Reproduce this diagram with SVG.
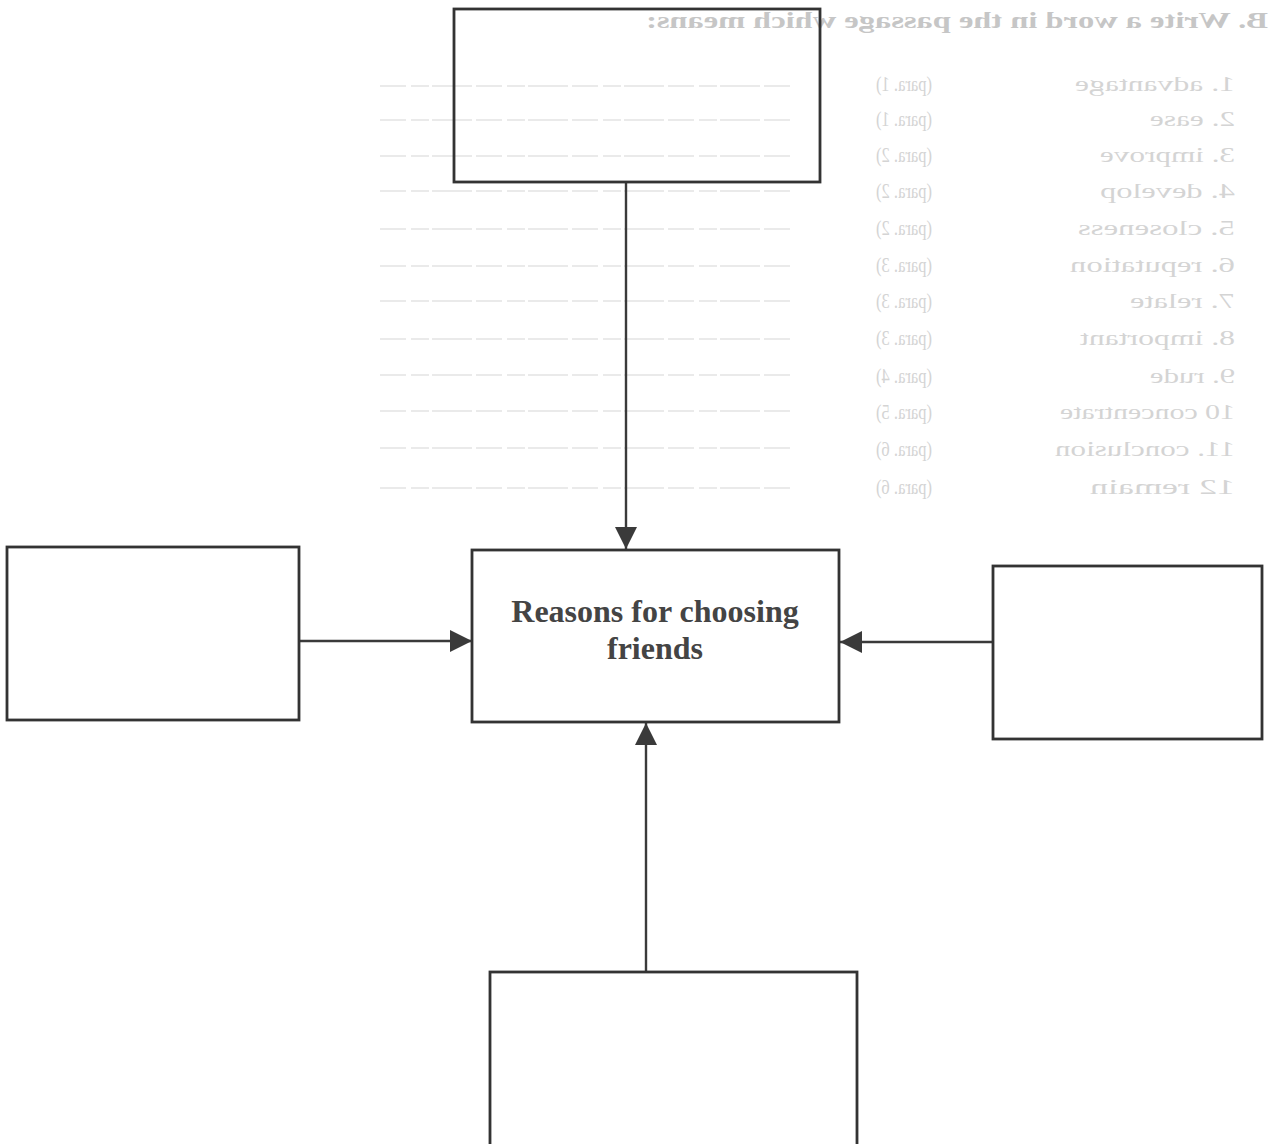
<svg xmlns="http://www.w3.org/2000/svg" width="1272" height="1144" viewBox="0 0 1272 1144">
  <style>
    .box { fill: none; stroke: #333333; stroke-width: 2.8; }
    .conn { stroke: #3a3a3a; stroke-width: 2.4; fill: none; }
    .title { font-family: "Liberation Serif", "Times New Roman", serif; font-weight: bold; font-size: 32px; fill: #444444; text-anchor: middle; }
    .ghost { font-family: "Liberation Serif", "Times New Roman", serif; font-size: 22px; fill: #d4d4d4; }
    .ghosthead { font-family: "Liberation Serif", "Times New Roman", serif; font-size: 23px; font-weight: bold; fill: #c6c6c6; }
    .gline { stroke: #e4e4e4; stroke-width: 1.6; stroke-dasharray: 26 4 40 3 18 5; }
  </style>
  <defs>
    <marker id="arrow" markerUnits="userSpaceOnUse" markerWidth="24" markerHeight="24" viewBox="0 0 24 24" refX="23" refY="12" orient="auto">
      <path d="M1,1 L23,12 L1,23 z" fill="#3a3a3a"/>
    </marker>
  </defs>
  <rect width="1272" height="1144" fill="#ffffff"/>

  <!-- show-through from the reverse side of the page (mirrored) -->
  <g id="ghost" transform="translate(1272,0) scale(-1,1)">
    <text class="ghosthead" x="4" y="28" textLength="622" lengthAdjust="spacingAndGlyphs">B. Write a word in the passage which means:</text>
    <g class="ghost">
      <text x="37" y="91" textLength="160" lengthAdjust="spacingAndGlyphs">1. advantage</text>
      <text x="37" y="126" textLength="85" lengthAdjust="spacingAndGlyphs">2. ease</text>
      <text x="37" y="162" textLength="135" lengthAdjust="spacingAndGlyphs">3. improve</text>
      <text x="37" y="198" textLength="135" lengthAdjust="spacingAndGlyphs">4. develop</text>
      <text x="37" y="235" textLength="157" lengthAdjust="spacingAndGlyphs">5. closeness</text>
      <text x="37" y="272" textLength="165" lengthAdjust="spacingAndGlyphs">6. reputation</text>
      <text x="37" y="308" textLength="105" lengthAdjust="spacingAndGlyphs">7. relate</text>
      <text x="37" y="345" textLength="155" lengthAdjust="spacingAndGlyphs">8. important</text>
      <text x="37" y="383" textLength="85" lengthAdjust="spacingAndGlyphs">9. rude</text>
      <text x="37" y="419" textLength="175" lengthAdjust="spacingAndGlyphs">10 concentrate</text>
      <text x="37" y="456" textLength="180" lengthAdjust="spacingAndGlyphs">11. conclusion</text>
      <text x="37" y="494" textLength="145" lengthAdjust="spacingAndGlyphs">12 remain</text>

      <text x="340" y="91" textLength="56" lengthAdjust="spacingAndGlyphs">(para. 1)</text>
      <text x="340" y="126" textLength="56" lengthAdjust="spacingAndGlyphs">(para. 1)</text>
      <text x="340" y="162" textLength="56" lengthAdjust="spacingAndGlyphs">(para. 2)</text>
      <text x="340" y="198" textLength="56" lengthAdjust="spacingAndGlyphs">(para. 2)</text>
      <text x="340" y="235" textLength="56" lengthAdjust="spacingAndGlyphs">(para. 2)</text>
      <text x="340" y="272" textLength="56" lengthAdjust="spacingAndGlyphs">(para. 3)</text>
      <text x="340" y="308" textLength="56" lengthAdjust="spacingAndGlyphs">(para. 3)</text>
      <text x="340" y="345" textLength="56" lengthAdjust="spacingAndGlyphs">(para. 3)</text>
      <text x="340" y="383" textLength="56" lengthAdjust="spacingAndGlyphs">(para. 4)</text>
      <text x="340" y="419" textLength="56" lengthAdjust="spacingAndGlyphs">(para. 5)</text>
      <text x="340" y="456" textLength="56" lengthAdjust="spacingAndGlyphs">(para. 6)</text>
      <text x="340" y="494" textLength="56" lengthAdjust="spacingAndGlyphs">(para. 6)</text>
    </g>
    <g class="gline">
      <line x1="482" y1="86" x2="892" y2="86"/>
      <line x1="482" y1="120" x2="892" y2="120"/>
      <line x1="482" y1="156" x2="892" y2="156"/>
      <line x1="482" y1="191" x2="892" y2="191"/>
      <line x1="482" y1="229" x2="892" y2="229"/>
      <line x1="482" y1="266" x2="892" y2="266"/>
      <line x1="482" y1="301" x2="892" y2="301"/>
      <line x1="482" y1="339" x2="892" y2="339"/>
      <line x1="482" y1="375" x2="892" y2="375"/>
      <line x1="482" y1="411" x2="892" y2="411"/>
      <line x1="482" y1="448" x2="892" y2="448"/>
      <line x1="482" y1="488" x2="892" y2="488"/>
    </g>
  </g>

  <g id="connectors">
    <line class="conn" x1="626" y1="182" x2="626" y2="549" marker-end="url(#arrow)"/>
    <line class="conn" x1="299" y1="641" x2="472" y2="641" marker-end="url(#arrow)"/>
    <line class="conn" x1="993" y1="642" x2="840" y2="642" marker-end="url(#arrow)"/>
    <line class="conn" x1="646" y1="972" x2="646" y2="723" marker-end="url(#arrow)"/>
  </g>

  <g id="node-top">
    <rect class="box" x="454" y="9" width="366" height="173"/>
  </g>
  <g id="node-left">
    <rect class="box" x="7" y="547" width="292" height="173"/>
  </g>
  <g id="node-center">
    <rect class="box" x="472" y="550" width="367" height="172"/>
    <text class="title" x="655" y="622">Reasons for choosing</text>
    <text class="title" x="655" y="659">friends</text>
  </g>
  <g id="node-right">
    <rect class="box" x="993" y="566" width="269" height="173"/>
  </g>
  <g id="node-bottom">
    <rect class="box" x="490" y="972" width="367" height="180"/>
  </g>
</svg>
